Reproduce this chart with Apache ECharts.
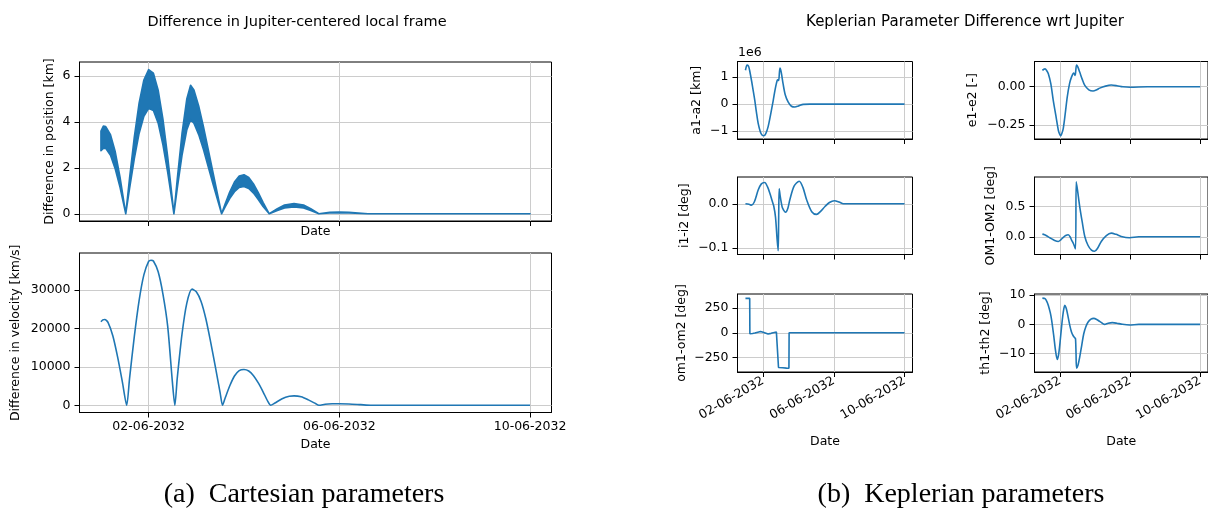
<!DOCTYPE html>
<html>
<head>
<meta charset="utf-8">
<script src="https://cdn.jsdelivr.net/npm/echarts@6/dist/echarts.min.js"></script>
<style>
html, body { margin: 0; padding: 0; background: #fff; }
#main { width: 1208px; height: 511px; }
</style>
</head>
<body>
<div id="main"></div>
<script>
// time in days since 01-06-2032 00:00
var dateTicks = [1, 5, 9];
var dateLabels = ['02-06-2032', '06-06-2032', '10-06-2032'];

// difference in position [km] : the orbit band, upper and lower edge
var posT = [0, 0.05, 0.1, 0.2, 0.3, 0.4, 0.52, 0.6, 0.7, 0.8, 0.9, 1.0, 1.1, 1.2, 1.3, 1.4, 1.5, 1.53,
    1.6, 1.7, 1.8, 1.88, 1.95, 2.05, 2.15, 2.25, 2.35, 2.45, 2.53, 2.6, 2.7, 2.8, 2.9, 3.0, 3.1, 3.2, 3.3,
    3.4, 3.53, 3.7, 3.85, 4.05, 4.25, 4.4, 4.57, 4.8, 5.0, 5.2, 5.6, 6.0, 7.0, 8.0, 9.0];
var posHigh = [3.6, 3.82, 3.8, 3.45, 2.7, 1.6, 0, 1.55, 3.35, 4.82, 5.83, 6.28, 6.13, 5.39, 4.13, 2.48, 0.59, 0,
    1.5, 3.5, 5.0, 5.6, 5.4, 4.7, 3.8, 2.8, 1.8, 0.8, 0, 0.4, 0.95, 1.38, 1.65, 1.7, 1.58, 1.3, 0.92,
    0.5, 0, 0.22, 0.38, 0.45, 0.38, 0.22, 0, 0.06, 0.08, 0.06, 0, 0, 0, 0, 0];
var posLow = [2.75, 2.85, 2.85, 2.55, 1.95, 1.15, 0, 1.1, 2.4, 3.5, 4.25, 4.6, 4.5, 3.95, 3.0, 1.8, 0.43, 0,
    1.1, 2.55, 3.65, 4.1, 3.95, 3.45, 2.8, 2.05, 1.3, 0.58, 0, 0.28, 0.66, 0.96, 1.15, 1.19, 1.1, 0.9, 0.62,
    0.32, 0, 0.14, 0.25, 0.3, 0.25, 0.14, 0, 0.04, 0.05, 0.04, 0, 0, 0, 0, 0];

// difference in velocity [km/s]
var velT = [0, 0.04, 0.08, 0.15, 0.25, 0.35, 0.45, 0.54, 0.6, 0.7, 0.8, 0.9, 1.0, 1.05, 1.1, 1.2, 1.3, 1.4,
    1.5, 1.55, 1.6, 1.7, 1.8, 1.91, 2.0, 2.1, 2.2, 2.3, 2.4, 2.5, 2.55, 2.6, 2.7, 2.8, 2.9, 3.0, 3.1, 3.2,
    3.3, 3.4, 3.5, 3.56, 3.65, 3.8, 3.95, 4.05, 4.2, 4.35, 4.5, 4.57, 4.7, 4.85, 5.0, 5.2, 5.45, 5.66,
    6.0, 7.0, 8.0, 9.0];
var velV = [21700, 22200, 22300, 21500, 18000, 12500, 6000, 0, 7000, 17900, 27200, 33900, 37400, 37700, 37500,
    34700, 28900, 20500, 5800, 0, 7000, 18500, 26500, 30200, 29500, 27000, 22500, 16500, 10000, 3200, 0,
    1700, 5000, 7600, 9000, 9300, 8900, 7700, 5800, 3500, 1000, 0, 600, 1700, 2350, 2450, 2200, 1400, 450,
    0, 250, 380, 400, 330, 150, 0, 0, 0, 0, 0];

// a1-a2 [km], in units of 1e6
var aT = [0, 0.06, 0.11, 0.18, 0.24, 0.35, 0.45, 0.53, 0.62, 0.72, 0.85, 0.95, 1.04, 1.15, 1.28, 1.42, 1.57,
    1.68, 1.79, 1.84, 1.88, 1.95, 2.02, 2.13, 2.25, 2.42, 2.6, 2.8, 3.0, 3.27, 3.65, 5, 9];
var aV = [1.26, 1.42, 1.45, 1.4, 1.24, 0.85, 0.45, 0.13, -0.3, -0.72, -1.05, -1.16, -1.18, -1.1, -0.85, -0.4,
    0.13, 0.55, 0.87, 0.9, 0.88, 1.34, 1.2, 0.75, 0.35, 0.07, -0.08, -0.11, -0.07, -0.01, 0, 0, 0];

// e1-e2 [-]
var eT = [0, 0.08, 0.15, 0.25, 0.34, 0.48, 0.62, 0.77, 0.91, 0.98, 1.04, 1.1, 1.19, 1.3, 1.42, 1.55, 1.66,
    1.79, 1.87, 1.9, 1.95, 2.02, 2.13, 2.27, 2.42, 2.65, 2.89, 3.1, 3.27, 3.6, 3.93, 4.25, 4.59, 5, 6, 9];
var eV = [0.107, 0.115, 0.117, 0.105, 0.085, 0.02, -0.089, -0.19, -0.285, -0.31, -0.322, -0.31, -0.274, -0.18,
    -0.067, 0.02, 0.063, 0.089, 0.074, 0.1, 0.143, 0.13, 0.096, 0.05, 0.009, -0.02, -0.028, -0.02, -0.009,
    0.004, 0.011, 0.007, 0, -0.003, 0, 0];

// i1-i2 [deg]
var iT = [0, 0.2, 0.34, 0.5, 0.72, 0.9, 1.09, 1.25, 1.38, 1.5, 1.6, 1.7, 1.79, 1.85, 1.88, 1.91, 1.97, 2.04,
    2.1, 2.27, 2.4, 2.51, 2.75, 3.04, 3.25, 3.46, 3.75, 4.02, 4.25, 4.5, 4.75, 5.03, 5.3, 5.54, 6, 9];
var iV = [0, -0.001, -0.003, 0.004, 0.031, 0.045, 0.048, 0.038, 0.024, 0.008, -0.005, -0.03, -0.08, -0.106,
    -0.03, 0.034, 0.016, 0.0, -0.01, -0.019, -0.01, 0.009, 0.04, 0.051, 0.037, 0.009, -0.018, -0.024, -0.017,
    -0.006, 0.003, 0.007, 0.004, 0, 0, 0];

// OM1-OM2 [deg]
var OMT = [0, 0.12, 0.24, 0.45, 0.7, 0.91, 1.05, 1.19, 1.33, 1.47, 1.58, 1.66, 1.78, 1.89, 1.93, 2.0, 2.13,
    2.27, 2.42, 2.6, 2.8, 2.98, 3.15, 3.36, 3.65, 3.93, 4.2, 4.5, 4.97, 5.5, 9];
var OMV = [0.044, 0.035, 0.016, -0.02, -0.06, -0.077, -0.05, -0.011, 0.02, 0.033, 0.0, -0.05, -0.12, -0.2,
    0.91, 0.78, 0.5, 0.25, 0.005, -0.14, -0.22, -0.24, -0.19, -0.077, 0.02, 0.06, 0.04, 0.005, -0.016, 0, 0];

// om1-om2 [deg]
var omT = [0, 0.24, 0.25, 0.4, 0.53, 0.7, 0.85, 1.0, 1.09, 1.28, 1.45, 1.57, 1.75, 1.85, 1.87, 2.1, 2.32,
    2.46, 2.47, 3, 9];
var omV = [347, 347, -10, -8, -3, 6, 13, 6, 0, -13, -6, 0, 6, 10, -350, -353, -357, -358, 0, 0, 0];

// th1-th2 [deg]
var thT = [0, 0.15, 0.25, 0.34, 0.45, 0.53, 0.65, 0.75, 0.85, 0.92, 1.0, 1.1, 1.2, 1.28, 1.36, 1.47, 1.57,
    1.66, 1.75, 1.85, 1.89, 1.92, 1.95, 2.03, 2.13, 2.25, 2.36, 2.48, 2.61, 2.77, 2.93, 3.1, 3.27, 3.42,
    3.55, 3.75, 3.99, 4.25, 4.5, 4.97, 5.5, 9];
var thV = [9.0, 8.8, 7.9, 6.5, 4.0, 1.4, -4.0, -9.0, -12.0, -10.5, -6.6, -0.5, 4.5, 6.5, 5.5, 2.5, -0.5, -2.6,
    -3.8, -4.6, -4.9, -10, -15, -14, -11.2, -7.0, -3.2, -0.8, 0.8, 1.8, 2.06, 1.7, 1.0, 0.4, 0, 0.4, 0.6,
    0.4, 0.1, -0.2, 0, 0];

var C = '#1f77b4';
var FONT = 'DejaVu Sans';

function pairs(t, v) {
    var out = [];
    for (var i = 0; i < t.length; i++) out.push([t[i], v[i]]);
    return out;
}

//grids (axes boxes)
var grids = [
    { left: 79.5, top: 62, width: 472, height: 159 },
    { left: 79.5, top: 253, width: 472, height: 159.5 },
    { left: 737.5, top: 61.5, width: 175, height: 77.5 },
    { left: 737.5, top: 177, width: 175, height: 77.5 },
    { left: 737.5, top: 294, width: 175, height: 78 },
    { left: 1034.5, top: 61.5, width: 175, height: 77.5 },
    { left: 1034.5, top: 177, width: 175, height: 77.5 },
    { left: 1034.5, top: 294, width: 175, height: 78 }
];
grids.forEach(function(g) {
    g.show = true;
    g.borderColor = '#000';
    g.borderWidth = 1;
    g.backgroundColor = 'transparent';
});

function xAx(grid, showLabels, rotate, nameGap) {
    return {
        type: 'value',
        gridIndex: grid,
        min: -0.45,
        max: 9.45,
        name: nameGap != null ? 'Date' : '',
        nameLocation: 'middle',
        nameGap: nameGap,
        nameTextStyle: { fontFamily: FONT, fontSize: 12.5, color: '#000' },
        axisLine: { show: true, onZero: false, lineStyle: { color: '#000', width: 1 } },
        axisTick: { show: true, length: 5, customValues: dateTicks, lineStyle: { color: '#000', width: 1 } },
        axisLabel: {
            show: showLabels,
            customValues: dateTicks,
            rotate: rotate,
            margin: 8,
            fontFamily: FONT,
            fontSize: 12.5,
            color: '#000',
            formatter: function(v) {
                var k = dateTicks.indexOf(v);
                return k < 0 ? '' : dateLabels[k];
            }
        },
        splitLine: { show: true, lineStyle: { color: '#cccccc', width: 1 } }
    };
}

function yAx(grid, min, max, ticks, labels, name, gap) {
    return {
        type: 'value',
        gridIndex: grid,
        min: min,
        max: max,
        name: name,
        nameLocation: 'middle',
        nameGap: gap,
        nameTextStyle: { fontFamily: FONT, fontSize: 12.5, color: '#000' },
        axisLine: { show: true, onZero: false, lineStyle: { color: '#000', width: 1 } },
        axisTick: { show: true, length: 5, customValues: ticks, lineStyle: { color: '#000', width: 1 } },
        axisLabel: {
            customValues: ticks,
            margin: 9,
            fontFamily: FONT,
            fontSize: 12.5,
            color: '#000',
            formatter: function(v) {
                var k = ticks.indexOf(v);
                return k < 0 ? '' : labels[k];
            }
        },
        splitLine: { show: true, lineStyle: { color: '#cccccc', width: 1 } }
    };
}

function line(idx, t, v, smooth) {
    return {
        type: 'line',
        xAxisIndex: idx,
        yAxisIndex: idx,
        data: pairs(t, v),
        showSymbol: false,
        smooth: smooth,
        lineStyle: { color: C, width: 1.6 },
        itemStyle: { color: C },
        z: 3
    };
}

var xAxes = [
    xAx(0, false, 0, 4),
    xAx(1, true, 0, 26),
    xAx(2, false, 0, null),
    xAx(3, false, 0, null),
    xAx(4, true, 30, 63),
    xAx(5, false, 0, null),
    xAx(6, false, 0, null),
    xAx(7, true, 30, 63)
];

var yAxes = [
    yAx(0, -0.315, 6.615, [0, 2, 4, 6], ['0', '2', '4', '6'], 'Difference in position [km]', 23),
    yAx(1, -1885, 39585, [0, 10000, 20000, 30000], ['0', '10000', '20000', '30000'], 'Difference in velocity [km/s]', 57),
    yAx(2, -1.3, 1.585, [-1, 0, 1], ['\u22121', '0', '1'], 'a1-a2 [km]', 34),
    yAx(3, -0.1145, 0.0605, [-0.1, 0], ['\u22120.1', '0.0'], 'i1-i2 [deg]', 46),
    yAx(4, -396, 391, [-250, 0, 250], ['\u2212250', '0', '250'], 'om1-om2 [deg]', 49),
    yAx(5, -0.3425, 0.1655, [-0.25, 0], ['\u22120.25', '0.00'], 'e1-e2 [-]', 55),
    yAx(6, -0.293, 0.988, [0, 0.5], ['0.0', '0.5'], 'OM1-OM2 [deg]', 37),
    yAx(7, -16.3, 10.4, [-10, 0, 10], ['\u221210', '0', '10'], 'th1-th2 [deg]', 42)
];

// position band: filled polygon between the upper and lower edge
var bandData = [];
for (var i = 0; i < posT.length; i++) bandData.push([posT[i], posLow[i], posHigh[i]]);

var series = [
    {
        type: 'custom',
        xAxisIndex: 0,
        yAxisIndex: 0,
        data: bandData,
        encode: { x: 0, y: [1, 2] },
        z: 3,
        renderItem: function(params, api) {
            if (params.dataIndex !== 0) return;
            var pts = [];
            for (var k = 0; k < bandData.length; k++) pts.push(api.coord([bandData[k][0], bandData[k][2]]));
            for (var k = bandData.length - 1; k >= 0; k--) pts.push(api.coord([bandData[k][0], bandData[k][1]]));
            return {
                type: 'polygon',
                shape: { points: pts, smooth: 0 },
                style: { fill: C, stroke: C, lineWidth: 1.6, lineJoin: 'round' }
            };
        }
    },
    line(1, velT, velV, 0.25),
    line(2, aT, aV, 0.3),
    line(3, iT, iV, 0.3),
    line(4, omT, omV, false),
    line(5, eT, eV, 0.3),
    line(6, OMT, OMV, 0.3),
    line(7, thT, thV, 0.3)
];

function txt(x, y, s, size, family, align) {
    return {
        type: 'text', x: x, y: y, silent: true,
        style: {
            text: s, fontSize: size, fontFamily: family, fill: '#000',
            textAlign: align || 'center', textVerticalAlign: 'middle'
        }
    };
}

var chart = echarts.init(document.getElementById('main'), null, { renderer: 'canvas' });
chart.setOption({
    animation: false,
    backgroundColor: '#fff',
    grid: grids,
    xAxis: xAxes,
    yAxis: yAxes,
    series: series,
    graphic: [
        txt(297, 22, 'Difference in Jupiter-centered local frame', 14.5, FONT),
        txt(965, 22, 'Keplerian Parameter Difference wrt Jupiter', 15, FONT),
        txt(738, 53, '1e6', 12.5, FONT, 'left'),
        txt(304, 495, '(a)  Cartesian parameters', 28, 'Liberation Serif'),
        txt(961, 495, '(b)  Keplerian parameters', 28, 'Liberation Serif')
    ]
});
</script>
</body>
</html>
